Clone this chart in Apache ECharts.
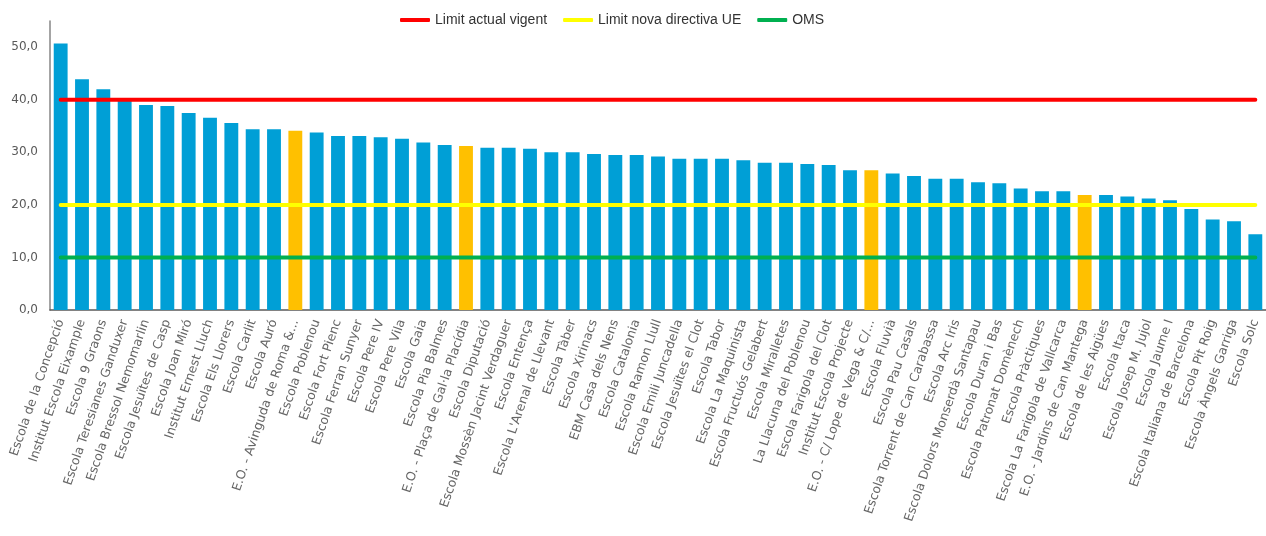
<!DOCTYPE html>
<html lang="ca">
<head>
    <meta charset="UTF-8">
    <title>NO2 escoles Barcelona</title>
    <style>
        html, body {
            margin: 0;
            padding: 0;
            background: #ffffff;
        }
        #main {
            width: 1266px;
            height: 536px;
        }
    </style>
    <script type="text/javascript" src="https://cdn.jsdelivr.net/npm/echarts@6/dist/echarts.min.js"></script>
</head>
<body>
<div id="main"></div>
<script type="text/javascript">
    var schools = ["Escola de la Concepció", "Institut Escola Eixample", "Escola 9 Graons",
        "Escola Teresianes Ganduxer", "Escola Bressol Nemomarlin", "Escola Jesuïtes de Casp",
        "Escola Joan Miró", "Institut Ernest Lluch", "Escola Els Llorers", "Escola Carlit",
        "Escola Auró", "E.O. - Avinguda de Roma &...", "Escola Poblenou", "Escola Fort Pienc",
        "Escola Ferran Sunyer", "Escola Pere IV", "Escola Pere Vila", "Escola Gaia",
        "Escola Pia Balmes", "E.O. - Plaça de Gal·la Placídia", "Escola Diputació",
        "Escola Mossèn Jacint Verdaguer", "Escola Entença", "Escola L'Arenal de Llevant",
        "Escola Tàber", "Escola Xirinacs", "EBM Casa dels Nens", "Escola Catalonia",
        "Escola Ramon Llull", "Escola Emili Juncadella", "Escola Jesuïtes el Clot",
        "Escola Tabor", "Escola La Maquinista", "Escola Fructuós Gelabert", "Escola Miralletes",
        "La Llacuna del Poblenou", "Escola Farigola del Clot", "Institut Escola Projecte",
        "E.O. - C/ Lope de Vega & C/...", "Escola Fluvià", "Escola Pau Casals",
        "Escola Torrent de Can Carabassa", "Escola Arc Iris", "Escola Dolors Monserdà Santapau",
        "Escola Duran i Bas", "Escola Patronat Domènech", "Escola Pràctiques",
        "Escola La Farigola de Vallcarca", "E.O. - Jardins de Can Mantega", "Escola de les Aigües",
        "Escola Itaca", "Escola Josep M. Jujol", "Escola Jaume I", "Escola Italiana de Barcelona",
        "Escola Pit Roig", "Escola Àngels Garriga", "Escola Solc"];
    var no2 = [50.7, 43.9, 42.0, 39.8, 39.0, 38.8, 37.5, 36.6, 35.6, 34.4,
        34.4, 34.1, 33.8, 33.1, 33.1, 32.9, 32.6, 31.9, 31.4, 31.2,
        30.9, 30.9, 30.7, 30.0, 30.0, 29.7, 29.5, 29.5, 29.2, 28.8,
        28.8, 28.8, 28.5, 28.0, 28.0, 27.8, 27.6, 26.6, 26.6, 26.0,
        25.5, 25.0, 25.0, 24.3, 24.1, 23.1, 22.6, 22.6, 21.9, 21.9,
        21.6, 21.2, 20.9, 19.2, 17.2, 16.9, 14.4];
    var limitNames = ["Limit actual vigent", "Limit nova directiva UE", "OMS"];
    var limitValues = [40, 20, 10];
    var limitColors = ["#ff0000", "#ffff00", "#00b050"];
    var yTicks = [0, 10, 20, 30, 40, 50];

    var chart = echarts.init(document.getElementById('main'));

    var series = [{
        name: 'NO2',
        type: 'bar',
        barCategoryGap: '35%',
        data: no2,
        itemStyle: {
            color: function (p) {
                // official stations (E.O.) in orange
                return schools[p.dataIndex].indexOf('E.O.') === 0 ? '#ffc000' : '#009fd6';
            }
        },
        z: 2
    }];
    limitNames.forEach(function (name, i) {
        series.push({
            name: name,
            type: 'line',
            symbol: 'none',
            data: schools.map(function () { return limitValues[i]; }),
            lineStyle: {color: limitColors[i], width: 4, cap: 'round'},
            itemStyle: {color: limitColors[i]},
            z: 3
        });
    });

    var option = {
        animation: false,
        textStyle: {fontFamily: 'DejaVu Sans'},
        legend: {
            data: limitNames,
            top: 8,
            left: 395,
            icon: 'roundRect',
            itemWidth: 30,
            itemHeight: 4,
            itemGap: 16,
            textStyle: {
                fontFamily: '"Liberation Sans", sans-serif',
                fontSize: 14,
                color: '#333333'
            }
        },
        grid: {
            left: 50,
            top: 21,
            width: 1218,
            height: 289
        },
        xAxis: {
            type: 'category',
            data: schools,
            axisLine: {lineStyle: {color: '#595959', width: 1.5}},
            axisTick: {show: false},
            axisLabel: {
                interval: 0,
                rotate: 71,
                margin: 10,
                fontSize: 12.5,
                color: '#666666'
            }
        },
        yAxis: {
            type: 'value',
            min: 0,
            max: 55,
            interval: 10,
            splitLine: {show: false},
            axisTick: {show: false},
            axisLine: {show: true, lineStyle: {color: '#868686', width: 1.5}},
            axisLabel: {
                margin: 12,
                fontSize: 12,
                color: '#595959',
                formatter: function (v) {
                    return yTicks.indexOf(v) >= 0 ? v.toFixed(1).replace('.', ',') : '';
                }
            }
        },
        series: series
    };
    chart.setOption(option);
</script>
</body>
</html>
